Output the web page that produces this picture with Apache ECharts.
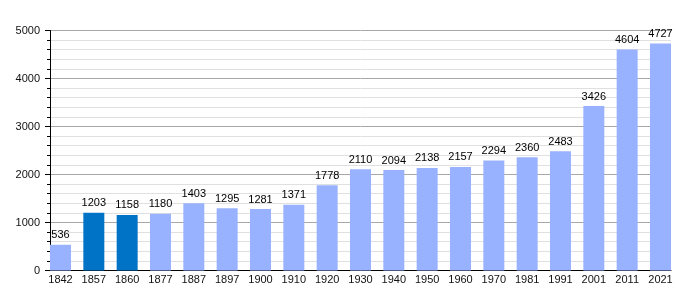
<!DOCTYPE html>
<html><head><meta charset="utf-8">
<script src="https://cdn.jsdelivr.net/npm/echarts@6/dist/echarts.min.js"></script>
<style>html,body{margin:0;padding:0;background:#fff}#c{width:700px;height:300px}</style>
</head><body><div id="c"></div>
<script>
const years = ['1842','1857','1860','1877','1887','1897','1900','1910','1920','1930','1940','1950','1960','1970','1981','1991','2001','2011','2021'];
const population = [536,1203,1158,1180,1403,1295,1281,1371,1778,2110,2094,2138,2157,2294,2360,2483,3426,4604,4727];
const highlighted = ['1857','1860'];
const yTicks = [0,1000,2000,3000,4000,5000];

const lightColor = '#99b2ff';
const darkColor = '#0073c6';
const font = 'Liberation Sans, Arial, sans-serif';

const chart = echarts.init(document.getElementById('c'), null, {renderer:'canvas'});
const plotLeft = 50, plotRight = 671, bandW = (plotRight - plotLeft - 21) / (years.length - 1);
const barLeft = plotLeft - (bandW - 21) / 2;
const barRight = plotRight + (bandW - 21) / 2;

chart.setOption({
  animation: false,
  grid: [
    {left: plotLeft, right: 700 - plotRight, top: 30.5, bottom: 29.5},
    {left: barLeft, right: 700 - barRight, top: 30.5, bottom: 29.5}
  ],
  xAxis: [
    {gridIndex: 0, type: 'value', min: 0, max: 1, show: true,
     axisLine: {show: true, onZero: false, lineStyle: {color: '#000', width: 1}},
     axisTick: {show: false}, axisLabel: {show: false}, splitLine: {show: false}},
    {gridIndex: 1, type: 'category', data: years, boundaryGap: true,
     axisLine: {show: false}, axisTick: {show: false},
     axisLabel: {show: true, color: '#111', fontSize: 11, fontFamily: font, margin: 4, interval: 0}}
  ],
  yAxis: [
    {gridIndex: 0, type: 'value', min: yTicks[0], max: yTicks[yTicks.length-1], interval: 1000,
     axisLine: {show: true, lineStyle: {color: '#000', width: 1}},
     axisTick: {show: true, inside: false, length: 5, lineStyle: {color: '#000'}},
     minorTick: {show: true, splitNumber: 5, length: 3, lineStyle: {color: '#000'}},
     axisLabel: {color: '#111', fontSize: 11, fontFamily: font, margin: 10, formatter: v => String(v)},
     splitLine: {show: true, lineStyle: {color: '#a8a8a8', width: 1}},
     minorSplitLine: {show: true, lineStyle: {color: '#e0e0e0', width: 1}}},
    {gridIndex: 1, type: 'value', min: yTicks[0], max: yTicks[yTicks.length-1], show: false}
  ],
  series: [{
    type: 'bar', xAxisIndex: 1, yAxisIndex: 1, barWidth: 21, z: 3,
    data: population.map((v, i) => ({value: v, itemStyle: {color: highlighted.includes(years[i]) ? darkColor : lightColor}})),
    label: {show: true, position: 'top', distance: 4, color: '#000', fontSize: 11, fontFamily: font}
  }]
});
</script></body></html>
